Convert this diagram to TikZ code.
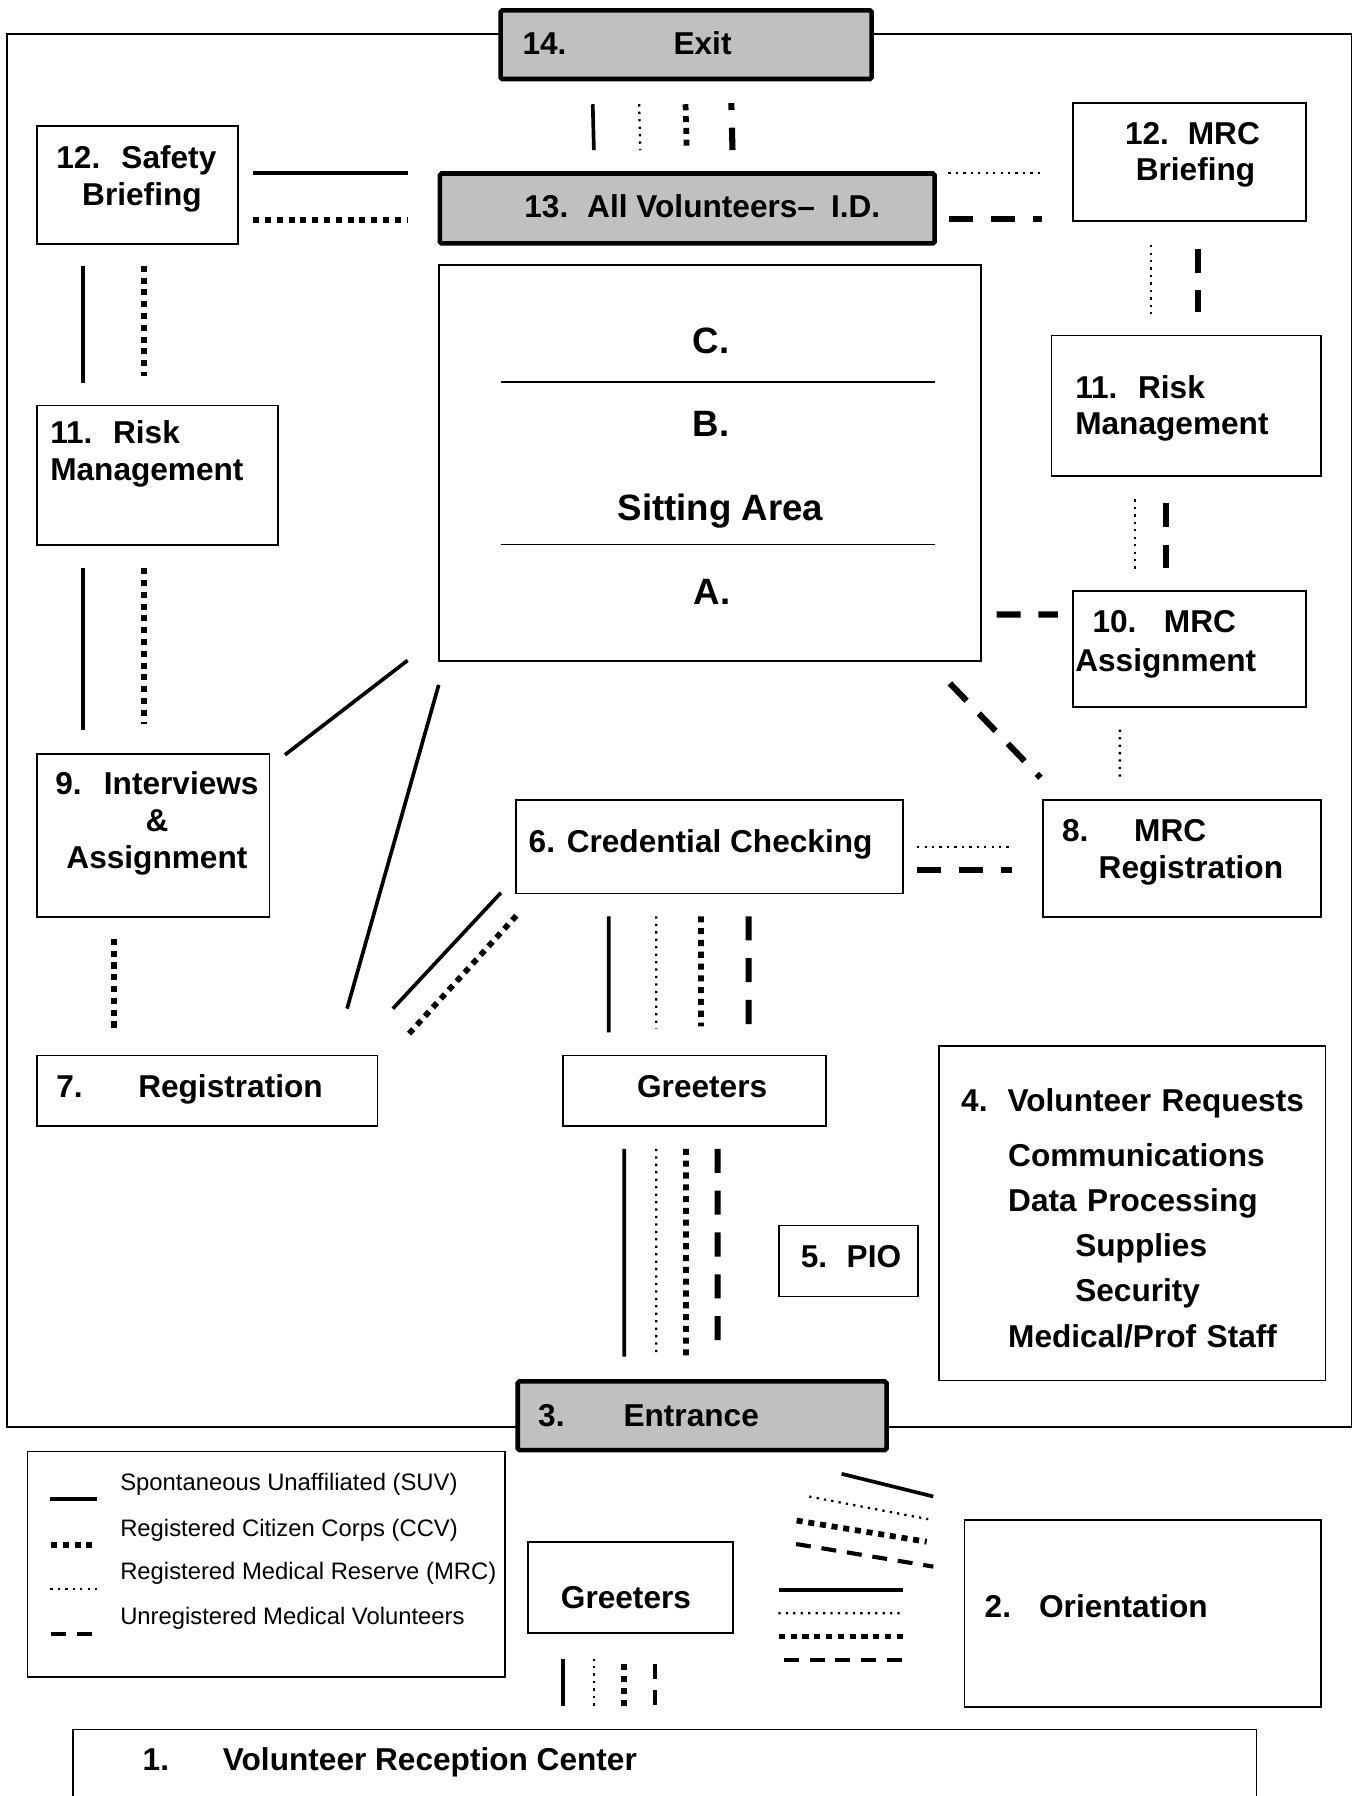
\documentclass[tikz,border=0pt]{standalone}
\usepackage{fontspec}
\setmainfont{Liberation Sans}
\usetikzlibrary{calc}

\definecolor{gategray}{HTML}{C0C0C0}
\newcommand{\boxfont}{\fontsize{27.6}{32}\selectfont\bfseries}
\newcommand{\sitfont}{\fontsize{32}{38}\selectfont\bfseries}
\newcommand{\legfont}{\fontsize{20.8}{24}\selectfont}

\tikzset{
  % ----- the rooms of the plan
  room/.style={
    draw=black, line width=1.5pt, fill=white, inner sep=0pt, outer sep=0pt,
    anchor=north west,
  },
  gate/.style = {room, line width=4pt, fill=gategray, rounded corners=1.5pt},
  % ----- the four kinds of volunteers
  suv/.style = {line width=3.2pt},
  ccv/.style = {line width=5pt, dash pattern=on 5.3pt off 5pt},
  mrc/.style = {line width=2pt, dash pattern=on 2pt off 4.5pt},
  umv/.style = {line width=5.3pt, dash pattern=on 21pt off 15.5pt},
  umvs/.style = {line width=3.6pt, dash pattern=on 13pt off 9.5pt},
}

\begin{document}
\begin{tikzpicture}[
                x = 1pt, y = -1pt, % one unit per pixel, y running down
                line cap = butt
            ]
        \tikzstyle{lbl} = [inner sep=0pt, font=\boxfont, anchor=base west]
        \tikzstyle{lblc} = [lbl, anchor=base]
        \tikzstyle{legtext} = [inner sep=0pt, font=\legfont, anchor=base west]

        \useasboundingbox (0,0) rectangle (1182,1568);
        \clip (0,0) rectangle (1182,1568);

        % hall
        \node[room, minimum width=1174, minimum height=1216.5] (hall) at (6,29.5) {};

        % rooms
        \node[gate, minimum width=324, minimum height=60] (exit) at (437,9) {};
        \node[gate, minimum width=432, minimum height=61] (allid) at (384,151.5) {};
        \node[room, minimum width=175.5, minimum height=103] (sbrief) at (32.5,110) {};
        \node[room, minimum width=203, minimum height=103] (mbrief) at (937,90) {};
        \node[room, minimum width=473.4, minimum height=345.7] (sit) at (383,231.6) {};
        \node[room, minimum width=210.3, minimum height=122] (rml) at (32.5,354) {};
        \node[room, minimum width=235.4, minimum height=122.3] (rmr) at (918,293) {};
        \node[room, minimum width=203, minimum height=101] (mass) at (937,516.2) {};
        \node[room, minimum width=202.7, minimum height=142] (intv) at (32.5,658.4) {};
        \node[room, minimum width=337.8, minimum height=81.8] (cred) at (450.8,698.2) {};
        \node[room, minimum width=242.8, minimum height=102.2] (mreg) at (910.6,698.2) {};
        \node[room, minimum width=297, minimum height=61.6] (reg) at (32.5,921.4) {};
        \node[room, minimum width=229.5, minimum height=61.6] (grt) at (491.5,921.4) {};
        \node[room, minimum width=337.7, minimum height=292.3] (req) at (819.5,913) {};
        \node[room, minimum width=121.4, minimum height=62] (pio) at (680,1070) {};
        \node[gate, minimum width=322, minimum height=60] (entr) at (452,1206) {};
        \node[room, minimum width=417, minimum height=196.7] (leg) at (24,1267.3) {};
        \node[room, minimum width=179, minimum height=79.6] (grt2) at (461,1346) {};
        \node[room, minimum width=311.4, minimum height=163] (orient) at (842,1327) {};
        \node[room, minimum width=1033, minimum height=120] (vrc) at (64,1510) {};

        % sitting area rows
        \draw[line width=1.5pt] ($(sit.north west)+(54,101.8)$) -- ($(sit.north east)+(-40,101.8)$);
        \draw[line width=1.5pt] ($(sit.north west)+(54,243.8)$) -- ($(sit.north east)+(-40,243.8)$);

        % texts
        \node[lbl] (exit-t) at (456,48) {14.\hspace{93.5pt}Exit};
        \node[lbl] (allid-t) at (457.6,189.5) {13.\hspace{16.5pt}All Volunteers–\hspace{14pt}I.D.};
        \node[lbl, text width=160, align=left] (sbrief-t) at (49,147)
            {12.\hspace{18.5pt}Safety\\\hspace*{22.6pt}Briefing};
        \node[lbl, text width=140, align=left] (mbrief-t) at (982,126)
            {12.\hspace{16.5pt}MRC\\\hspace*{9.4pt}Briefing};
        \node[lblc, font=\sitfont] (sit-c) at (621,309) {C.};
        \node[lblc, font=\sitfont] (sit-b) at (621,381) {B.};
        \node[lblc, font=\sitfont] (sit-t) at (629,454.4) {Sitting Area};
        \node[lblc, font=\sitfont] (sit-a) at (621.5,528) {A.};
        \node[lbl, text width=190, align=left] (rml-t) at (43.7,387.5)
            {11.\hspace{18pt}Risk\\Management};
        \node[lbl, text width=190, align=left] (rmr-t) at (938.6,347.5)
            {11.\hspace{18pt}Risk\\Management};
        \node[lbl, text width=180, align=left] (mass-t) at (938.6,552)
            {\hspace*{15pt}10.\hspace{24pt}MRC\\[2pt]Assignment};
        \node[lblc, text width=200, align=center] (intv-t) at (137,694)
            {9.\hspace{19.5pt}Interviews\\\&\\Assignment};
        \node[lbl] (cred-t) at (461.4,744) {6. Credential Checking};
        \node[lbl, text width=210, align=left] (mreg-t) at (927,735)
            {8.\hspace{40pt}MRC\\\hspace*{32pt}Registration};
        \node[lbl] (reg-t) at (49,958) {7.\hspace{48.5pt}Registration};
        \node[lblc] (grt-t) at (613,958) {Greeters};
        \node[lbl, text width=320, align=left, font=\fontsize{27.6}{39.5}\selectfont\bfseries] (req-t) at (839,970)
            {4.\hspace{17.5pt}Volunteer Requests\\[8.5pt]
             \hspace*{41pt}Communications\\
             \hspace*{41pt}Data Processing\\
             \hspace*{99.6pt}Supplies\\
             \hspace*{99.6pt}Security\\
             \hspace*{41pt}Medical/Prof Staff};
        \node[lblc] (pio-t) at (743,1107) {5.\hspace{17pt}PIO};
        \node[lbl] (entr-t) at (469.7,1245) {3.\hspace{51.5pt}Entrance};
        \node[lblc] (grt2-t) at (546.5,1404) {Greeters};
        \node[lbl] (orient-t) at (859.5,1412.5) {2.\hspace{24.5pt}Orientation};
        \node[lbl] (vrc-t) at (124.4,1545.5) {1.\hspace{47pt}Volunteer Reception Center};

        % legend
        \node[legtext] (leg-suv) at (104.8,1301.5) {Spontaneous Unaffiliated (SUV)};
        \node[legtext] (leg-ccv) at (104.8,1341) {Registered Citizen Corps (CCV)};
        \node[legtext] (leg-mrc) at (104.8,1379.3) {Registered Medical Reserve (MRC)};
        \node[legtext] (leg-umv) at (104.8,1418.6) {Unregistered Medical Volunteers};
        \draw[suv] ($(leg.north west)+(20,41.3)$) -- +(41,0);
        \draw[ccv] ($(leg.north west)+(20.5,81.7)$) -- +(36.4,0);
        \draw[mrc] ($(leg.north west)+(20,119.7)$) -- +(42,0);
        \draw[umvs] ($(leg.north west)+(20.5,159.2)$) -- +(35.5,0);

        % exit side
        \foreach \s/\dx in {suv/-81.5, mrc/-41, ccv/-0.5}
            \draw[\s] ($(exit.south)+(\dx,22)$) -- ($(allid.north)+(\dx,-20.5)$);
        \draw[umv, dash phase=15] ($(exit.south)+(39.5,21)$) -- ($(allid.north)+(39.5,-20.5)$);
        \draw[suv] ($(sbrief.east)+(13,-10.5)$) -- ($(allid.west)+(-28,-31)$);
        \draw[ccv] ($(sbrief.east)+(13,30.5)$) -- ($(allid.west)+(-28,10)$);
        \draw[mrc] ($(allid.east)+(12,-30.7)$) -- ($(mbrief.west)+(-29,9.8)$);
        \draw[umv] ($(allid.east)+(12.7,9.5)$) -- ($(mbrief.west)+(-27,50)$);

        % left column
        \draw[suv] ($(sbrief.south west)+(40,19.2)$) -- ($(rml.north west)+(40,-20)$);
        \draw[ccv] ($(sbrief.south west)+(93.5,19)$) -- ($(rml.north west)+(93.5,-26)$);
        \draw[suv] ($(rml.south west)+(40,20)$) -- ($(intv.north west)+(40,-21.4)$);
        \draw[ccv] ($(rml.south west)+(93.5,20)$) -- ($(intv.north west)+(93.5,-26)$);
        \draw[ccv] ($(intv.south west)+(67,19.3)$) -- ($(reg.north west)+(67,-23.4)$);

        % right column
        \draw[mrc] ($(mbrief.south west)+(68,21)$) -- ($(rmr.north west)+(87,-19)$);
        \draw[umv] ($(mbrief.south west)+(108.6,24)$) -- ($(rmr.north west)+(127.6,-21)$);
        \draw[mrc] ($(rmr.south west)+(73,20.7)$) -- ($(mass.north west)+(54,-18.2)$);
        \draw[umv] ($(rmr.south west)+(100,23.7)$) -- ($(mass.north west)+(81,-20.2)$);
        \draw[umv] ($(sit.south east)+(13.6,-40.8)$) -- ($(mass.west)+(-13.4,-30.2)$);
        \draw[mrc] ($(mass.south west)+(40.7,19.8)$) -- ($(mreg.north west)+(67.1,-18.2)$);
        \draw[umv] ($(sit.south east)+(-27.1,19.3)$) -- ($(mreg.north west)+(-2.2,-19.2)$);
        \draw[mrc] ($(cred.east)+(12.1,0.5)$) -- ($(mreg.west)+(-30.1,-9.7)$);
        \draw[umv] ($(cred.east)+(12.1,20.5)$) -- ($(mreg.west)+(-27,10.3)$);

        % sitting area and registration
        \draw[suv] ($(sit.south west)+(-27.2,-0.7)$) -- ($(intv.north east)+(13.6,0.6)$);
        \draw[suv] ($(sit.south west)+(0,20.7)$) -- ($(reg.north east)+(-26.5,-40.8)$);
        \draw[suv] ($(cred.south west)+(-13.5,-0.6)$) -- ($(reg.north east)+(13.5,-40.8)$);
        \draw[ccv] ($(cred.south west)+(0,19.4)$) -- ($(reg.north east)+(27.1,-18.4)$);

        % greeters to credential checking and entrance
        \foreach \s/\dx/\ex/\ey in {suv/-88.2/-74.8/-20, mrc/-46.7/-33.3/-23.4, ccv/-7.7/5.8/-25.4, umv/33.9/47.4/-23}
            \draw[\s] ($(cred.south)+(\dx,20)$) -- ($(grt.north)+(\ex,\ey)$);
        \foreach \s/\dx/\ex in {suv/-61.3/-68, mrc/-33.3/-40, ccv/-7.3/-14, umv/20.3/13.5}
            \draw[\s] ($(grt.south)+(\dx,20)$) -- ($(entr.north)+(\ex,-21.6)$);

        % outside: entrance, orientation, greeters, reception
        \draw[suv] ($(entr.south east)+(-39.2,20.7)$) -- ($(orient.north west)+(-27.2,-20.5)$);
        \draw[mrc] ($(entr.south east)+(-67.5,40.6)$) -- ($(orient.north west)+(-31.6,-0.7)$);
        \draw[ccv] ($(entr.south east)+(-78.5,61.5)$) -- ($(orient.north west)+(-33,19)$);
        \draw[umvs] ($(entr.south east)+(-79,82)$) -- ($(orient.north west)+(-27.2,40.7)$);
        \draw[suv] ($(grt2.east)+(40,2.2)$) -- ($(orient.west)+(-53.4,-20.5)$);
        \draw[mrc] ($(grt2.east)+(39.5,22.6)$) -- ($(orient.west)+(-56.3,-0.1)$);
        \draw[ccv] ($(grt2.east)+(40,43)$) -- ($(orient.west)+(-53,20.3)$);
        \draw[umvs] ($(grt2.east)+(44.4,63.2)$) -- ($(orient.west)+(-53,40.5)$);
        \foreach \s/\dx/\ex/\dy in {suv/-59/-89/22.4, mrc/-31.9/-61.9/22.4, ccv/-5.5/-35.5/27.4, umvs/21.5/-8.5/27.4}
            \draw[\s] ($(grt2.south)+(\dx,\dy)$) -- ($(vrc.north)+(\ex,-21)$);
    \end{tikzpicture}
\end{document}
